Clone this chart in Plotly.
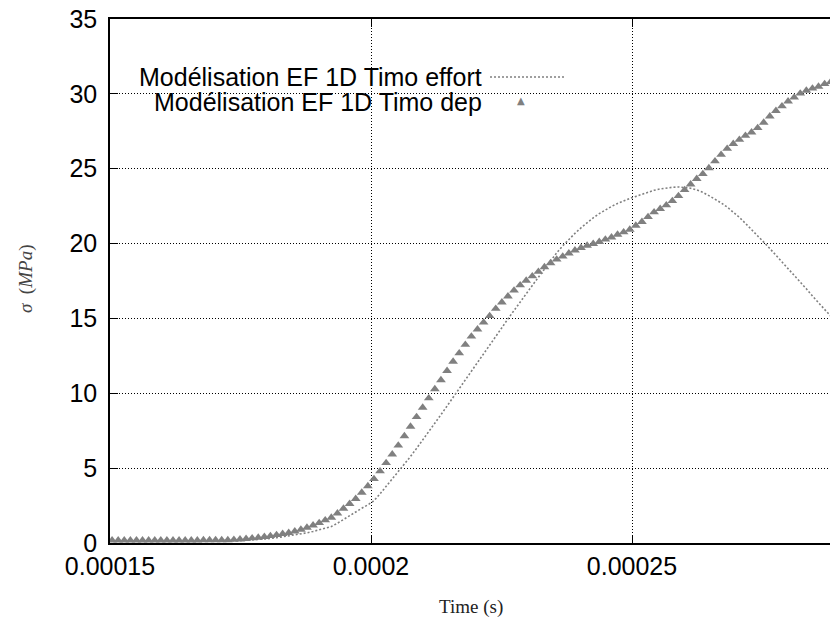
import plotly.graph_objects as go

# Time in microseconds (sample instants of the simulation output)
TIME_US = [150.40, 151.57, 152.73, 153.90, 155.07, 156.23, 157.40, 158.57, 159.73, 160.90,
           162.07, 163.23, 164.40, 165.57, 166.73, 167.90, 169.07, 170.23, 171.40, 172.57,
           173.73, 174.90, 176.07, 177.23, 178.40, 179.57, 180.73, 181.90, 183.07, 184.23,
           185.40, 186.57, 187.73, 188.90, 190.07, 191.23, 192.40, 193.57, 194.73, 195.90,
           197.07, 198.23, 199.40, 200.57, 201.73, 202.90, 204.07, 205.23, 206.40, 207.57,
           208.73, 209.90, 211.07, 212.23, 213.40, 214.57, 215.73, 216.90, 218.07, 219.23,
           220.40, 221.57, 222.73, 223.90, 225.07, 226.23, 227.40, 228.57, 229.73, 230.90,
           232.07, 233.23, 234.40, 235.57, 236.73, 237.90, 239.07, 240.23, 241.40, 242.57,
           243.73, 244.90, 246.07, 247.23, 248.40, 249.57, 250.73, 251.90, 253.07, 254.23,
           255.40, 256.57, 257.73, 258.90, 260.07, 261.23, 262.40, 263.57, 264.73, 265.90,
           267.07, 268.23, 269.40, 270.57, 271.73, 272.90, 274.07, 275.23, 276.40, 277.57,
           278.73, 279.90, 281.07, 282.23, 283.40, 284.57, 285.73, 286.90, 288.07]

# sigma (MPa) - "Timo effort" (dotted line)
SIGMA_EFFORT = [0.12, 0.12, 0.12, 0.12, 0.12, 0.12, 0.12, 0.12, 0.12, 0.12,
                0.12, 0.12, 0.12, 0.12, 0.12, 0.12, 0.12, 0.12, 0.12, 0.12,
                0.14, 0.16, 0.18, 0.20, 0.23, 0.26, 0.30, 0.35, 0.41, 0.47,
                0.53, 0.60, 0.68, 0.77, 0.87, 0.98, 1.10, 1.32, 1.58, 1.85,
                2.08, 2.32, 2.55, 2.82, 3.28, 3.78, 4.26, 4.74, 5.24, 5.78,
                6.32, 6.87, 7.43, 7.99, 8.57, 9.15, 9.72, 10.30, 10.88, 11.46,
                12.04, 12.62, 13.20, 13.78, 14.38, 14.97, 15.55, 16.10, 16.65, 17.20,
                17.75, 18.30, 18.85, 19.38, 19.85, 20.28, 20.68, 21.05, 21.40, 21.72,
                22.00, 22.25, 22.48, 22.68, 22.86, 23.01, 23.15, 23.30, 23.44, 23.56,
                23.65, 23.72, 23.76, 23.78, 23.76, 23.70, 23.58, 23.42, 23.20, 22.98,
                22.72, 22.44, 22.10, 21.75, 21.35, 20.95, 20.53, 20.10, 19.67, 19.22,
                18.78, 18.35, 17.92, 17.48, 16.98, 16.50, 16.05, 15.60, 15.15]

# sigma (MPa) - "Timo dep" (triangles)
SIGMA_DEP = [0.18, 0.18, 0.18, 0.18, 0.18, 0.18, 0.18, 0.18, 0.18, 0.18,
             0.18, 0.18, 0.18, 0.18, 0.18, 0.20, 0.20, 0.20, 0.20, 0.20,
             0.22, 0.25, 0.28, 0.32, 0.36, 0.41, 0.47, 0.54, 0.61, 0.68,
             0.78, 0.90, 1.03, 1.18, 1.34, 1.52, 1.70, 1.98, 2.30, 2.62,
             2.95, 3.37, 3.80, 4.28, 4.80, 5.35, 5.92, 6.52, 7.14, 7.78,
             8.42, 9.05, 9.67, 10.28, 10.88, 11.50, 12.12, 12.68, 13.25, 13.80,
             14.27, 14.73, 15.17, 15.65, 16.08, 16.48, 16.87, 17.22, 17.53, 17.82,
             18.12, 18.43, 18.70, 18.94, 19.14, 19.35, 19.55, 19.72, 19.87, 19.98,
             20.12, 20.28, 20.42, 20.60, 20.76, 20.94, 21.20, 21.45, 21.78, 22.10,
             22.32, 22.56, 22.85, 23.18, 23.58, 23.96, 24.33, 24.65, 25.04, 25.50,
             25.94, 26.34, 26.66, 26.94, 27.21, 27.43, 27.72, 28.08, 28.50, 28.87,
             29.18, 29.50, 29.76, 30.03, 30.22, 30.36, 30.49, 30.66, 30.80]

SERIES_NAMES = ["Modélisation EF 1D Timo effort", "Modélisation EF 1D Timo dep"]
X_TICKS = [0.00015, 0.0002, 0.00025]
X_TICK_TEXT = ["0.00015", "0.0002", "0.00025"]
Y_TICKS = [0, 5, 10, 15, 20, 25, 30, 35]

time_s = [v * 1e-6 for v in TIME_US]

GRAY = "#808080"
W, H = 830, 619
L, R, T, B = 110, 0, 19, 76
PW, PH = W - L - R, H - T - B

def px(x):
    return (x - L) / PW

def py(y):
    return (H - B - y) / PH

fig = go.Figure()
fig.add_trace(go.Scatter(x=time_s, y=SIGMA_EFFORT, mode="lines", name=SERIES_NAMES[0],
                         line=dict(color=GRAY, width=1.6, dash="2px,2px"), showlegend=False))
fig.add_trace(go.Scatter(x=time_s, y=SIGMA_DEP, mode="markers", name=SERIES_NAMES[1],
                         marker=dict(symbol="triangle-up", size=8.5, color=GRAY,
                                     line=dict(width=0)), showlegend=False))

# x range: plot area cut at the right edge of the picture
x0 = 0.00015
x1 = 0.00015 + PW / 261.0 * 0.00005

fig.update_layout(
    width=W, height=H,
    margin=dict(l=L, r=R, t=T, b=B, autoexpand=False),
    paper_bgcolor="white", plot_bgcolor="white",
    font=dict(family="Liberation Sans, Arial, sans-serif", size=25, color="black"),
    xaxis=dict(range=[x0, x1], tickvals=X_TICKS, ticktext=X_TICK_TEXT, automargin=False,
               showline=True, linecolor="black", linewidth=1.5, mirror="ticks",
               ticks="inside", ticklen=8, tickcolor="black", tickwidth=1,
               showgrid=True, gridcolor="black", gridwidth=1, griddash="1px,2px",
               zeroline=False, ticklabelstandoff=0),
    yaxis=dict(range=[0, 35], tickvals=Y_TICKS, automargin=False,
               showline=True, linecolor="black", linewidth=1.5, mirror=False,
               ticks="inside", ticklen=8, tickcolor="black", tickwidth=1,
               showgrid=True, gridcolor="black", gridwidth=1, griddash="1px,2px",
               zeroline=False, ticklabelstandoff=6),
)

# key box (white, hides the grid behind it)
fig.add_shape(type="rect", xref="paper", yref="paper",
              x0=px(112), x1=px(578), y0=py(118), y1=py(58),
              fillcolor="white", line=dict(width=0), layer="between")
# key entries
fig.add_annotation(xref="paper", yref="paper", x=px(484), y=py(77), xanchor="right",
                   yanchor="middle", text=SERIES_NAMES[0], showarrow=False,
                   font=dict(size=25, color="black"))
fig.add_annotation(xref="paper", yref="paper", x=px(484), y=py(102), xanchor="right",
                   yanchor="middle", text=SERIES_NAMES[1], showarrow=False,
                   font=dict(size=25, color="black"))
fig.add_shape(type="line", xref="paper", yref="paper",
              x0=px(490), x1=px(566), y0=py(77), y1=py(77),
              line=dict(color=GRAY, width=1.6, dash="2px,2px"))
fig.add_annotation(xref="paper", yref="paper", x=px(521), y=py(101), xanchor="center",
                   yanchor="middle", text="▲", showarrow=False,
                   font=dict(size=10, color=GRAY, family="DejaVu Sans"))

# axis titles
fig.add_annotation(xref="paper", yref="paper", x=px(471), y=py(607), xanchor="center",
                   yanchor="middle", text="Time (s)", showarrow=False,
                   font=dict(size=19, color="#222", family="Liberation Serif, serif"))
fig.add_annotation(xref="paper", yref="paper", x=px(26), y=py(279), xanchor="center",
                   yanchor="middle", text="<i>σ</i>  (<i>MPa</i>)", textangle=-90,
                   showarrow=False,
                   font=dict(size=19, color="#444", family="Liberation Serif, serif"))

fig.write_html("out.html", config={"displayModeBar": False},
               post_script="document.body.style.margin='0';document.body.style.overflow='hidden';")
